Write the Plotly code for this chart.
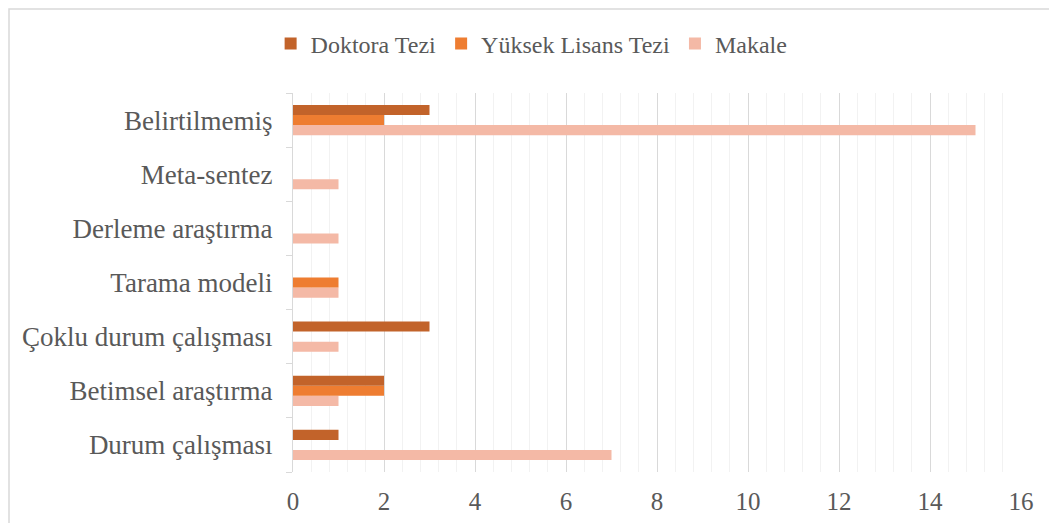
import plotly.graph_objects as go

categories = ["Durum çalışması", "Betimsel araştırma", "Çoklu durum çalışması",
              "Tarama modeli", "Derleme araştırma", "Meta-sentez", "Belirtilmemiş"]
doktora = [1, 2, 3, 0, 0, 0, 3]
yuksek = [0, 2, 0, 1, 0, 0, 2]
makale = [7, 1, 1, 1, 1, 1, 15]
x_ticks = [0, 2, 4, 6, 8, 10, 12, 14, 16]

font_family = "Liberation Serif"
txt = "#595959"

W, H = 1041, 515
L, T, R, B = 285, 85, 28, 51
pw, ph = W - L - R, H - T - B

fig = go.Figure()
fig.add_trace(go.Bar(y=categories, x=makale, name="Makale", orientation="h",
                     marker=dict(color="#F4B9A6", line=dict(width=0)), legendrank=3))
fig.add_trace(go.Bar(y=categories, x=yuksek, name="Yüksek Lisans Tezi", orientation="h",
                     marker=dict(color="#EE7D31", line=dict(width=0)), legendrank=2))
fig.add_trace(go.Bar(y=categories, x=doktora, name="Doktora Tezi", orientation="h",
                     marker=dict(color="#C2632A", line=dict(width=0)), legendrank=1))

fig.update_layout(
    width=W, height=H,
    margin=dict(l=L, r=R, t=T, b=B, autoexpand=False),
    paper_bgcolor="white", plot_bgcolor="white",
    barmode="group", bargap=0.44, bargroupgap=0,
    font=dict(family=font_family, size=24, color=txt),
    showlegend=True,
    legend=dict(orientation="h", xref="container", yref="container",
                x=0.503, xanchor="center", y=1 - 36 / H, yanchor="middle",
                font=dict(family=font_family, size=24, color=txt),
                itemwidth=30, tracegroupgap=0),
    xaxis=dict(range=[0, 16], tickvals=x_ticks, showgrid=True, gridcolor="#D9D9D9",
               gridwidth=1, zeroline=False, showline=False, ticks="",
               automargin=False, ticklabelstandoff=12,
               tickfont=dict(family=font_family, size=25, color=txt),
               minor=dict(dtick=0.4, showgrid=True, gridcolor="#F2F2F2", gridwidth=1)),
    yaxis=dict(categoryorder="array", categoryarray=categories, automargin=False,
               showline=True, linecolor="#D9D9D9", linewidth=1,
               ticks="outside", ticklen=6, tickcolor="#D9D9D9", tickson="boundaries",
               showgrid=False, ticklabelstandoff=14,
               tickfont=dict(family=font_family, size=27, color=txt)),
)

fig.add_shape(type="rect", xref="paper", yref="paper",
              x0=(1 - L) / pw, x1=(W + 20 - L) / pw,
              y0=-(B + 20) / ph, y1=(ph + T - 1) / ph,
              line=dict(color="#D9D9D9", width=1.5), fillcolor="rgba(0,0,0,0)", layer="below")

fig.write_html("out.html")
